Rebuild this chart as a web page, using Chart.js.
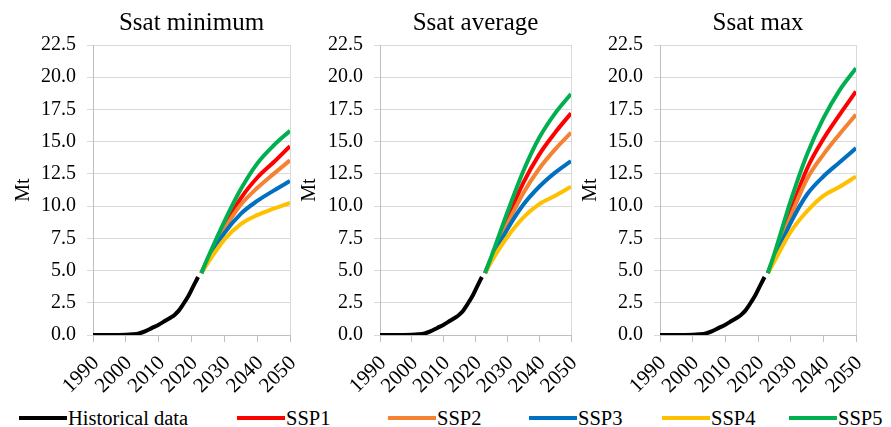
<!DOCTYPE html>
<html>
<head>
<meta charset="utf-8">
<script src="https://cdn.jsdelivr.net/npm/chart.js@4.4.0/dist/chart.umd.min.js"></script>
<style>
    body { margin: 0; background: #fff; }
    #wrap { position: relative; width: 891px; height: 427px; overflow: hidden; font-family: "Liberation Serif", serif; }
    #wrap canvas { position: absolute; top: 0; }
    .leg { position: absolute; top: 406px; display: flex; align-items: center; font-size: 20.5px; color: #000; white-space: nowrap; line-height: 24px; }
    .leg .sw { display: inline-block; width: 48px; height: 4px; margin-right: 1px; }
</style>
</head>
<body>
<div id="wrap">
    <canvas id="c1" width="300" height="400" style="left:0px"></canvas>
    <canvas id="c2" width="290" height="400" style="left:290px"></canvas>
    <canvas id="c3" width="291" height="400" style="left:570px"></canvas>
    <div id="legend"></div>
</div>
<script>
const histYears = [1990, 1995, 2000, 2002, 2004, 2006, 2008, 2010, 2012, 2014, 2015, 2016, 2017, 2018, 2019, 2020, 2021, 2022];
const histValues = [0, 0, 0.02, 0.05, 0.12, 0.3, 0.55, 0.8, 1.1, 1.4, 1.6, 1.85, 2.2, 2.6, 3.0, 3.5, 4.0, 4.5];

const projYears = [2023, 2025, 2030, 2035, 2040, 2045, 2050];

// Ssat minimum
const minSSP1 = [4.8, 5.9, 8.4, 10.6, 12.2, 13.4, 14.65];
const minSSP2 = [4.8, 5.85, 8.2, 10.1, 11.4, 12.5, 13.55];
const minSSP3 = [4.8, 5.8, 7.9, 9.4, 10.4, 11.2, 11.95];
const minSSP4 = [4.8, 5.6, 7.4, 8.6, 9.3, 9.8, 10.25];
const minSSP5 = [4.8, 6.0, 8.8, 11.3, 13.3, 14.7, 15.85];

// Ssat average
const avgSSP1 = [4.8, 6.0, 9.0, 11.8, 14.0, 15.7, 17.2];
const avgSSP2 = [4.8, 5.9, 8.6, 11.0, 12.9, 14.4, 15.7];
const avgSSP3 = [4.8, 5.85, 8.2, 10.1, 11.5, 12.6, 13.5];
const avgSSP4 = [4.8, 5.7, 7.6, 9.1, 10.15, 10.8, 11.5];
const avgSSP5 = [4.8, 6.1, 9.5, 12.7, 15.3, 17.2, 18.7];

// Ssat max
const maxSSP1 = [4.8, 6.1, 9.6, 12.9, 15.2, 17.1, 18.9];
const maxSSP2 = [4.8, 6.0, 9.2, 12.1, 14.0, 15.6, 17.1];
const maxSSP3 = [4.8, 5.9, 8.7, 10.9, 12.3, 13.4, 14.5];
const maxSSP4 = [4.8, 5.7, 8.0, 9.6, 10.8, 11.5, 12.3];
const maxSSP5 = [4.8, 6.3, 10.4, 14.0, 16.8, 19.0, 20.7];

const seriesNames = ["Historical data", "SSP1", "SSP2", "SSP3", "SSP4", "SSP5"];
const seriesColors = ["#000000", "#ff0000", "#f58232", "#0070c0", "#ffc000", "#00b050"];

const fontFamily = "'Liberation Serif', 'Times New Roman', serif";
const tickFont = { family: fontFamily, size: 20 };

function toPoints(xs, ys) {
    return xs.map((x, i) => ({ x: x, y: ys[i] }));
}

function makePanel(id, title, ssp, box) {
    const datasets = [
        {
            label: seriesNames[0],
            data: toPoints(histYears, histValues),
            borderColor: seriesColors[0],
            order: 6,
        },
    ];
    ssp.forEach((vals, k) => {
        datasets.push({
            label: seriesNames[k + 1],
            data: toPoints(projYears, vals),
            borderColor: seriesColors[k + 1],
            order: 5 - k,
        });
    });
    datasets.forEach((d) => {
        d.borderWidth = 4;
        d.pointRadius = 0;
        d.fill = false;
        d.cubicInterpolationMode = "monotone";
        d.borderJoinStyle = "round";
    });

    const ctx = document.getElementById(id).getContext("2d");
    return new Chart(ctx, {
        type: "line",
        data: { datasets: datasets },
        options: {
            responsive: false,
            animation: false,
            layout: { padding: { left: box.padLeft, right: box.padRight, top: 0, bottom: 0 } },
            plugins: {
                legend: { display: false },
                tooltip: { enabled: false },
                title: {
                    display: true,
                    text: title,
                    fullSize: false,
                    color: "#000",
                    font: { family: fontFamily, size: 25, weight: "normal" },
                    padding: { top: 8, bottom: 7 },
                },
            },
            scales: {
                x: {
                    type: "linear",
                    min: 1990,
                    max: 2050,
                    afterFit: (s) => {
                        s.height = 65;
                        s.paddingLeft = 0;
                        s.paddingRight = 0;
                    },
                    ticks: {
                        stepSize: 10,
                        autoSkip: false,
                        minRotation: 45,
                        maxRotation: 45,
                        padding: 9,
                        labelOffset: 3,
                        color: "#000",
                        font: { family: fontFamily, size: 21 },
                        callback: (v) => String(v),
                    },
                    grid: {
                        color: (c) => (c.tick && c.tick.value === 2050 ? "#d9d9d9" : "rgba(0,0,0,0)"),
                        tickColor: "#bfbfbf",
                        tickLength: 7,
                    },
                    border: { color: "#bfbfbf" },
                },
                y: {
                    min: 0,
                    max: 22.5,
                    afterFit: (s) => { s.width = box.yWidth; },
                    ticks: {
                        stepSize: 2.5,
                        padding: 11,
                        color: "#000",
                        font: tickFont,
                        callback: (v) => v.toFixed(1),
                    },
                    grid: { color: "#d9d9d9", tickColor: "#d9d9d9", tickLength: 6 },
                    border: { color: "#bfbfbf" },
                    title: {
                        display: true,
                        text: "Mt",
                        color: "#000",
                        font: tickFont,
                        padding: { top: 4, bottom: 0 },
                    },
                },
            },
        },
    });
}

makePanel("c1", "Ssat minimum", [minSSP1, minSSP2, minSSP3, minSSP4, minSSP5], { padLeft: 8, yWidth: 85, padRight: 10 });
makePanel("c2", "Ssat average", [avgSSP1, avgSSP2, avgSSP3, avgSSP4, avgSSP5], { padLeft: 4, yWidth: 86, padRight: 9 });
makePanel("c3", "Ssat max", [maxSSP1, maxSSP2, maxSSP3, maxSSP4, maxSSP5], { padLeft: 5, yWidth: 85, padRight: 5 });

// legend across the bottom
const legendLeft = [19, 237, 388, 529, 662, 789];
const legend = document.getElementById("legend");
seriesNames.forEach((name, i) => {
    const item = document.createElement("div");
    item.className = "leg";
    item.style.left = legendLeft[i] + "px";
    item.innerHTML = `<span class="sw" style="background:${seriesColors[i]}"></span><span>${name}</span>`;
    legend.appendChild(item);
});
</script>
</body>
</html>
